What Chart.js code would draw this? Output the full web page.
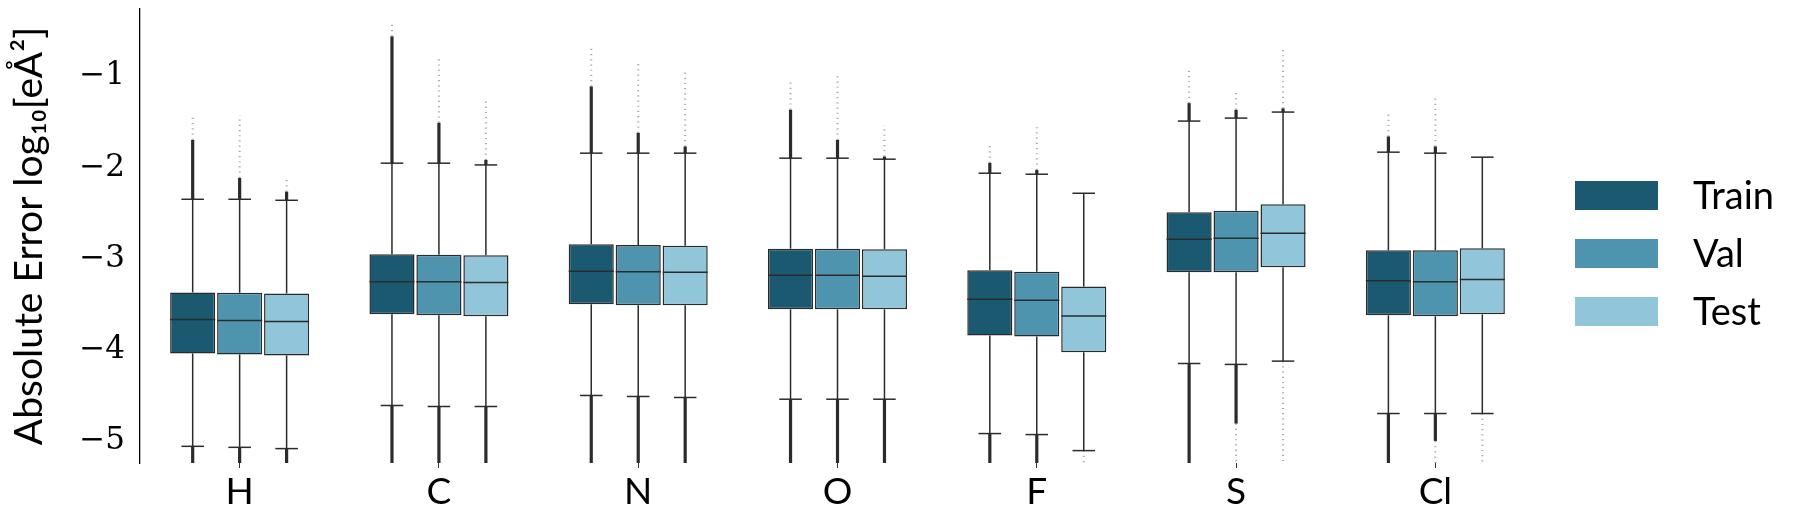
<!DOCTYPE html>
<html>
<head>
<meta charset="utf-8">
<script src="https://cdn.jsdelivr.net/npm/chart.js@4.4.0/dist/chart.umd.min.js"></script>
<style>
  html, body { margin: 0; padding: 0; background: #fff; }
  #wrap { width: 1802px; height: 519px; }
</style>
</head>
<body>
<div id="wrap"><canvas id="chart"></canvas></div>
<script>
const elements = ['H', 'C', 'N', 'O', 'F', 'S', 'Cl'];
const splits = ['Train', 'Val', 'Test'];
const yTicks = [-5, -4, -3, -2, -1];

// box stats per split, in log10 units, order as elements
const trainQ1 = [-4.040, -3.611, -3.501, -3.556, -3.842, -3.150, -3.622];
const trainMedian = [-3.666, -3.253, -3.139, -3.183, -3.446, -2.787, -3.242];
const trainQ3 = [-3.370, -2.952, -2.842, -2.890, -3.128, -2.490, -2.908];
const trainWhiskerLow = [-5.059, -4.611, -4.501, -4.542, -4.919, -4.150, -4.699];
const trainWhiskerHigh = [-2.348, -1.952, -1.842, -1.897, -2.062, -1.490, -1.831];
const trainFlierMax = [-1.447, -0.421, -0.677, -1.022, -1.732, -0.930, -1.380];
const trainDenseTop = [-1.696, -0.560, -1.110, -1.366, -1.949, -1.293, -1.659];
const trainDenseBottom = [-5.3, -5.3, -5.3, -5.3, -5.3, -5.3, -5.3];
const trainFlierMin = [-5.3, -5.3, -5.3, -5.3, -5.3, -5.3, -5.3];

const valQ1 = [-4.051, -3.622, -3.512, -3.556, -3.853, -3.150, -3.633];
const valMedian = [-3.677, -3.253, -3.143, -3.183, -3.457, -2.776, -3.253];
const valQ3 = [-3.374, -2.956, -2.849, -2.890, -3.143, -2.473, -2.908];
const valWhiskerLow = [-5.070, -4.622, -4.512, -4.542, -4.930, -4.160, -4.699];
const valWhiskerHigh = [-2.348, -1.952, -1.842, -1.897, -2.073, -1.457, -1.842];
const valFlierMax = [-1.425, -0.780, -0.850, -0.985, -1.534, -1.168, -1.238];
const valDenseTop = [-2.114, -1.509, -1.619, -1.696, -2.026, -1.366, -1.769];
const valDenseBottom = [-5.3, -5.3, -5.3, -5.3, -5.3, -4.809, -5.0];
const valFlierMin = [-5.3, -5.3, -5.3, -5.3, -5.3, -5.3, -5.3];

const testQ1 = [-4.062, -3.633, -3.512, -3.556, -4.026, -3.095, -3.611];
const testMedian = [-3.688, -3.260, -3.150, -3.193, -3.630, -2.721, -3.227];
const testQ3 = [-3.381, -2.963, -2.857, -2.897, -3.304, -2.403, -2.886];
const testWhiskerLow = [-5.084, -4.622, -4.523, -4.542, -5.106, -4.124, -4.699];
const testWhiskerHigh = [-2.359, -1.971, -1.842, -1.908, -2.282, -1.391, -1.886];
const testFlierMax = [-2.125, -1.238, -0.919, -1.534, -2.282, -0.707, -1.886];
const testDenseTop = [-2.264, -1.916, -1.769, -1.879, -2.282, -1.350, -1.886];
const testDenseBottom = [-5.3, -5.3, -5.3, -5.3, -5.106, -4.124, -4.699];
const testFlierMin = [-5.3, -5.3, -5.3, -5.3, -5.3, -5.3, -5.3];

const colors = ['#1b5970', '#4f94ae', '#91c6da'];
const lineColor = '#2b2b2b';

const stats = [
  { q1: trainQ1, med: trainMedian, q3: trainQ3, wLo: trainWhiskerLow, wHi: trainWhiskerHigh,
    fMax: trainFlierMax, dTop: trainDenseTop, dBot: trainDenseBottom, fMin: trainFlierMin },
  { q1: valQ1, med: valMedian, q3: valQ3, wLo: valWhiskerLow, wHi: valWhiskerHigh,
    fMax: valFlierMax, dTop: valDenseTop, dBot: valDenseBottom, fMin: valFlierMin },
  { q1: testQ1, med: testMedian, q3: testQ3, wLo: testWhiskerLow, wHi: testWhiskerHigh,
    fMax: testFlierMax, dTop: testDenseTop, dBot: testDenseBottom, fMin: testFlierMin }
];

function seg(ctx, x1, y1, x2, y2) {
  ctx.beginPath();
  ctx.moveTo(x1, y1);
  ctx.lineTo(x2, y2);
  ctx.stroke();
}

// whiskers, caps and fliers under the boxes, medians on top, legend at the right
const boxPlot = {
  id: 'boxPlot',
  beforeDatasetsDraw(chart) {
    const { ctx, chartArea } = chart;
    const y = v => chart.scales.y.getPixelForValue(v);
    ctx.save();
    ctx.beginPath();
    ctx.rect(chartArea.left, chartArea.top, chartArea.right - chartArea.left, chartArea.bottom - chartArea.top);
    ctx.clip();
    stats.forEach((s, d) => {
      chart.getDatasetMeta(d).data.forEach((bar, i) => {
        const x = bar.x;
        const cap = bar.width / 4;
        // sparse fliers
        ctx.strokeStyle = 'rgba(90,90,90,0.5)';
        ctx.lineWidth = 2;
        ctx.setLineDash([1.2, 4]);
        if (s.fMax[i] > s.dTop[i]) seg(ctx, x, y(s.dTop[i]), x, y(s.fMax[i]));
        if (s.fMin[i] < s.dBot[i]) seg(ctx, x, y(s.dBot[i]), x, y(s.fMin[i]));
        ctx.setLineDash([]);
        // dense fliers
        ctx.strokeStyle = lineColor;
        ctx.lineWidth = 3.2;
        if (s.dTop[i] > s.wHi[i]) seg(ctx, x, y(s.wHi[i]), x, y(s.dTop[i]));
        if (s.dBot[i] < s.wLo[i]) seg(ctx, x, y(s.wLo[i]), x, y(s.dBot[i]));
        // whiskers and caps
        ctx.lineWidth = 1.5;
        seg(ctx, x, y(s.q3[i]), x, y(s.wHi[i]));
        seg(ctx, x, y(s.q1[i]), x, y(s.wLo[i]));
        seg(ctx, x - cap, y(s.wHi[i]), x + cap, y(s.wHi[i]));
        seg(ctx, x - cap, y(s.wLo[i]), x + cap, y(s.wLo[i]));
      });
    });
    ctx.restore();
  },
  afterDatasetsDraw(chart) {
    const { ctx } = chart;
    const y = v => chart.scales.y.getPixelForValue(v);
    ctx.save();
    ctx.strokeStyle = lineColor;
    ctx.lineWidth = 1.5;
    stats.forEach((s, d) => {
      chart.getDatasetMeta(d).data.forEach((bar, i) => {
        const half = bar.width / 2;
        seg(ctx, bar.x - half, y(s.med[i]), bar.x + half, y(s.med[i]));
      });
    });
    ctx.restore();
  },
  afterDraw(chart) {
    const { ctx, chartArea } = chart;
    const left = chartArea.right + 40;
    ctx.save();
    ctx.font = '38px Lato';
    ctx.textBaseline = 'middle';
    splits.forEach((name, k) => {
      const top = 181 + k * 58;
      ctx.fillStyle = colors[k];
      ctx.fillRect(left, top, 83, 29);
      ctx.fillStyle = '#000';
      ctx.fillText(name, left + 118, top + 16);
    });
    ctx.restore();
  }
};

new Chart(document.getElementById('chart'), {
  type: 'bar',
  data: {
    labels: elements,
    datasets: splits.map((name, k) => ({
      label: name,
      data: stats[k].q1.map((v, i) => [v, stats[k].q3[i]]),
      backgroundColor: colors[k],
      borderColor: lineColor,
      borderWidth: 1.5,
      borderSkipped: false,
      categoryPercentage: 0.707,
      barPercentage: 0.96
    }))
  },
  options: {
    responsive: true,
    maintainAspectRatio: false,
    animation: false,
    devicePixelRatio: 1,
    layout: { padding: { top: 9, right: 267, left: 0, bottom: 0 } },
    plugins: { legend: { display: false }, tooltip: { enabled: false } },
    scales: {
      x: {
        offset: true,
        border: { display: false },
        grid: { display: true, drawOnChartArea: false, drawTicks: true, tickLength: 5, offset: false, color: '#333' },
        ticks: { color: '#000', font: { family: 'Lato', size: 37 }, padding: 2 },
        afterFit: s => { s.height = 56; }
      },
      y: {
        min: -5.242,
        max: -0.26,
        border: { display: true, color: '#000', width: 1.3 },
        grid: { display: false, drawTicks: false },
        afterBuildTicks: s => { s.ticks = yTicks.map(v => ({ value: v })); },
        ticks: {
          color: '#000',
          padding: 15,
          font: { family: "'DejaVu Serif', serif", size: 31 },
          callback: v => '\u2212' + Math.abs(v)
        },
        title: {
          display: true,
          text: 'Absolute Error log\u2081\u2080[e\u00c5\u00b2]',
          color: '#000',
          font: { family: 'Lato', size: 39 },
          padding: { top: 6, bottom: 0 }
        },
        afterFit: s => { s.width = 140; s.paddingTop = 0; s.paddingBottom = 0; }
      }
    }
  },
  plugins: [boxPlot]
});
</script>
</body>
</html>
